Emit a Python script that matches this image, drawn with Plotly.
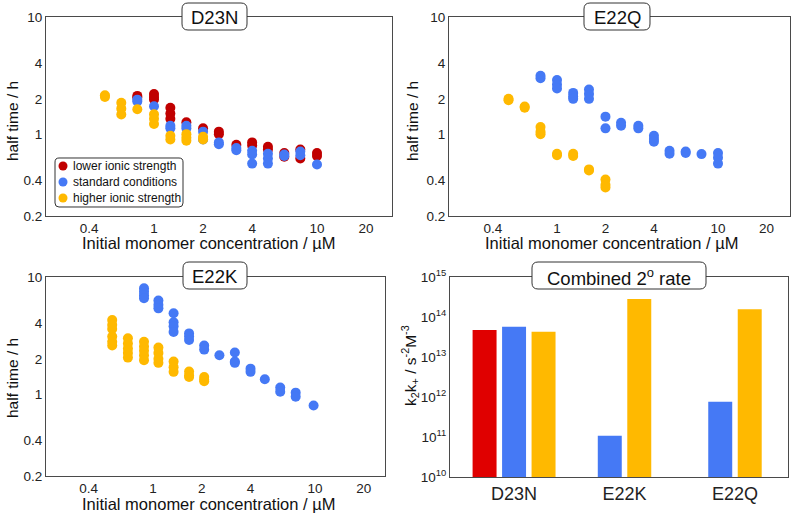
import math
import plotly.graph_objects as go

W, H = 793, 514
FONT = "Liberation Sans, Arial, sans-serif"

# ---------------- data ----------------
conc = [0.5, 0.63, 0.79, 1.0, 1.26, 1.58, 2.0, 2.5, 3.2, 4.0, 5.0, 6.3, 7.9, 10.0]

# D23N half times (h), one list per concentration in `conc`
d23n_lower = [[], [], [2.12, 2.05], [2.2, 2.08, 1.98], [1.68, 1.5, 1.35], [1.26], [1.12],
              [1.05, 1.0], [0.81], [0.85, 0.8], [0.78, 0.74], [0.69, 0.64], [0.74, 0.62], [0.69, 0.65]]
d23n_standard = [[], [], [1.97, 1.9], [1.73], [1.18, 1.12], [1.18, 1.12], [1.05, 0.9],
                 [0.85, 0.82], [0.76, 0.73], [0.72, 0.67, 0.56], [0.68, 0.62, 0.56], [0.67, 0.65],
                 [0.71, 0.66], [0.55]]
d23n_higher = [[2.15, 2.08], [1.85, 1.65, 1.47], [1.63], [1.48, 1.35, 1.22], [0.97, 0.9],
               [1.0, 0.93, 0.88], [0.95, 0.9], [], [], [], [], [], [], []]

# E22Q half times (h)
e22q_standard = [[], [], [3.15, 3.0], [2.9, 2.65, 2.45], [2.25, 2.1, 2.0], [2.4, 2.2, 2.0],
                 [1.41, 1.12], [1.25, 1.18], [1.18, 1.12], [0.97, 0.91, 0.86], [0.72, 0.68],
                 [0.71, 0.69], [0.675], [0.69, 0.63, 0.56]]
e22q_higher = [[2.0, 1.95], [1.72, 1.68], [1.15, 1.05, 1.0], [0.68, 0.66], [0.68, 0.65],
               [0.5, 0.49], [0.41, 0.37, 0.35], [], [], [], [], [], [], []]

# E22K (its own concentration series)
e22k_conc = [0.56, 0.70, 0.88, 1.08, 1.34, 1.67, 2.07, 2.57, 3.2, 4.0, 4.9, 6.1, 7.6, 9.8]
e22k_standard = [[], [], [8.0, 7.5, 7.0, 6.6], [6.3, 5.8, 5.4], [4.9, 4.1, 3.8, 3.4],
                 [3.3, 3.1, 2.9], [2.6, 2.4], [2.15], [2.27, 1.9, 1.85], [1.65, 1.55],
                 [1.34], [1.14, 1.05], [1.03, 0.95], [0.8]]
e22k_higher = [[4.3, 3.9, 3.6, 3.1, 2.8, 2.6], [3.0, 2.7, 2.45, 2.25, 2.05],
               [2.8, 2.55, 2.35, 2.15, 1.95], [2.5, 2.25, 2.0, 1.85], [1.9, 1.7, 1.55],
               [1.56, 1.45, 1.4], [1.4, 1.33, 1.29], [], [], [], [], [], [], []]

# Combined secondary rate k2k+ (s^-2 M^-3)
mutants = ["D23N", "E22K", "E22Q"]
rate_lower = [4.7e13, None, None]
rate_standard = [5.7e13, 1.07e11, 7.6e11]
rate_higher = [4.3e13, 2.8e14, 1.56e14]

conditions = ["lower ionic strength", "standard conditions", "higher ionic strength"]
x_ticks = [0.4, 1, 2, 4, 10, 20]
y_ticks = [0.2, 0.4, 1, 2, 4, 10]
bar_exps = [10, 11, 12, 13, 14, 15]

# ---------------- styles ----------------
C_RED_DOT = "#C00000"
C_RED_BAR = "#E00000"
C_BLUE = "#4579F5"
C_YELLOW = "#FFB900"
LINE = "#4a4a4a"
cond_colors = [C_RED_DOT, C_BLUE, C_YELLOW]


def flat(xs, groups):
    px, py = [], []
    for x, g in zip(xs, groups):
        for v in g:
            px.append(x)
            py.append(v)
    return px, py


fig = go.Figure()

panels = [
    ("", conc, [(d23n_lower, C_RED_DOT, conditions[0]),
                (d23n_standard, C_BLUE, conditions[1]),
                (d23n_higher, C_YELLOW, conditions[2])]),
    ("2", conc, [(e22q_standard, C_BLUE, conditions[1]),
                 (e22q_higher, C_YELLOW, conditions[2])]),
    ("3", e22k_conc, [(e22k_standard, C_BLUE, conditions[1]),
                      (e22k_higher, C_YELLOW, conditions[2])]),
]
for suf, xs, series in panels:
    for vals, col, name in series:
        px, py = flat(xs, vals)
        fig.add_trace(go.Scatter(
            x=px, y=py, mode="markers", name=name,
            marker=dict(color=col, size=10, line=dict(width=0)),
            xaxis="x" + suf, yaxis="y" + suf, showlegend=False))

# bars: overlay mode with computed offsets so groups are centred
width = 0.217
pitch = 0.267
rate_series = [(rate_lower, C_RED_BAR), (rate_standard, C_BLUE), (rate_higher, C_YELLOW)]
for si, (vals, col) in enumerate(rate_series):
    xs, ys, offs = [], [], []
    for ci, m in enumerate(mutants):
        present = [k for k, (v, _) in enumerate(rate_series) if v[ci] is not None]
        if vals[ci] is None:
            continue
        slot = present.index(si)
        n = len(present)
        xs.append(m)
        ys.append(vals[ci])
        offs.append((slot - (n - 1) / 2) * pitch - width / 2)
    fig.add_trace(go.Bar(x=xs, y=ys, width=width, offset=offs, marker=dict(color=col, line=dict(width=0)),
                         xaxis="x4", yaxis="y4", showlegend=False))

# ---------------- layout ----------------
boxes = {  # pixel boxes of each plot area (left, right, top, bottom)
    "": (46, 392, 17, 216),
    "2": (449, 790, 17, 216),
    "3": (46, 385, 277, 476),
    "4": (450, 788, 277, 477),
}
# pixel positions of x = 1 and x = 10 on the log panels
xcal = {"": (154, 317), "2": (557, 718), "3": (153, 315)}

layout = dict(
    width=W, height=H, margin=dict(l=0, r=0, t=0, b=0, pad=0, autoexpand=False),
    paper_bgcolor="white", plot_bgcolor="white",
    font=dict(family=FONT, color="#222"),
    barmode="overlay", showlegend=False,
)

axcommon = dict(showline=True, mirror=True, linecolor=LINE, linewidth=1, ticks="",
                showgrid=False, zeroline=False, automargin=False,
                tickfont=dict(size=13.5, family=FONT, color="#222"))

for suf, (l, r, t, b) in boxes.items():
    xa = dict(axcommon, domain=[l / W, r / W], anchor="y" + suf)
    ya = dict(axcommon, domain=[1 - b / H, 1 - t / H], anchor="x" + suf)
    if suf in xcal:
        p1, p10 = xcal[suf]
        dec = p10 - p1
        xa.update(type="log", range=[(l - p1) / dec, (r - p1) / dec],
                  tickvals=x_ticks, ticktext=[str(v) for v in x_ticks])
        ya.update(type="log", range=[math.log10(0.2), 1],
                  tickvals=y_ticks, ticktext=[str(v) for v in y_ticks])
    else:
        xa.update(type="category", categoryorder="array", categoryarray=mutants,
                  range=[-0.58, 2.48], tickfont=dict(size=18, family=FONT, color="#222"))
        ya.update(type="log", range=[10, 15], tickvals=[10 ** e for e in bar_exps],
                  ticktext=["10<sup>%d</sup>" % e for e in bar_exps])
    layout["xaxis" + suf] = xa
    layout["yaxis" + suf] = ya

fig.update_layout(**layout)


def ann(text, x, y, size, angle=0, xanchor="center"):
    fig.add_annotation(text=text, x=x / W, y=1 - y / H, xref="paper", yref="paper",
                       showarrow=False, textangle=angle, xanchor=xanchor, yanchor="middle",
                       font=dict(size=size, family=FONT, color="#111"))


xt = "Initial monomer concentration / µM"
ann(xt, 208, 243, 16.5)
ann(xt, 611, 243, 16.5)
ann(xt, 208, 504, 16.5)
ann("half time / h", 12, 121, 15.5, -90)
ann("half time / h", 412, 121, 15.5, -90)
ann("half time / h", 12, 378, 15.5, -90)
ann("k<sub>2</sub>k<sub>+</sub> / s<sup>-2</sup>M<sup>-3</sup>", 410, 366, 15.5, -90)


def rbox(x0, y0, x1, y1, r=6):
    def P(x, y):
        return "%.5f,%.5f" % (x / W, 1 - y / H)
    return ("M" + P(x0 + r, y0) + " L" + P(x1 - r, y0) + " Q" + P(x1, y0) + " " + P(x1, y0 + r) +
            " L" + P(x1, y1 - r) + " Q" + P(x1, y1) + " " + P(x1 - r, y1) +
            " L" + P(x0 + r, y1) + " Q" + P(x0, y1) + " " + P(x0, y1 - r) +
            " L" + P(x0, y0 + r) + " Q" + P(x0, y0) + " " + P(x0 + r, y0) + " Z")


titles = [("D23N", 182, 247, 3, 30), ("E22Q", 584, 650, 3, 30),
          ("E22K", 183, 247, 262, 289), ("Combined 2<sup>o</sup> rate", 532, 706, 262, 289)]
for txt, x0, x1, y0, y1 in titles:
    fig.add_shape(type="path", path=rbox(x0, y0, x1, y1), xref="paper", yref="paper",
                  fillcolor="white", line=dict(color="#333", width=1), layer="above")
    ann(txt, (x0 + x1) / 2, (y0 + y1) / 2 + 1, 18.5)

# legend (drawn as a key box inside the D23N panel)
fig.add_shape(type="path", path=rbox(55, 158, 183, 207, r=4), xref="paper", yref="paper",
              fillcolor="white", line=dict(color="#333", width=1), layer="above")
for i, (name, col) in enumerate(zip(conditions, cond_colors)):
    yc = 166 + i * 16
    fig.add_shape(type="circle", xref="paper", yref="paper", xsizemode="pixel", ysizemode="pixel",
                  xanchor=63 / W, yanchor=1 - yc / H, x0=-4.5, x1=4.5, y0=-4.5, y1=4.5,
                  fillcolor=col, line=dict(width=0), layer="above")
    ann(name, 71, yc, 12, xanchor="left")

fig.write_html("out.html", config={"displayModeBar": False},
               post_script="document.body.style.margin='0px';")
